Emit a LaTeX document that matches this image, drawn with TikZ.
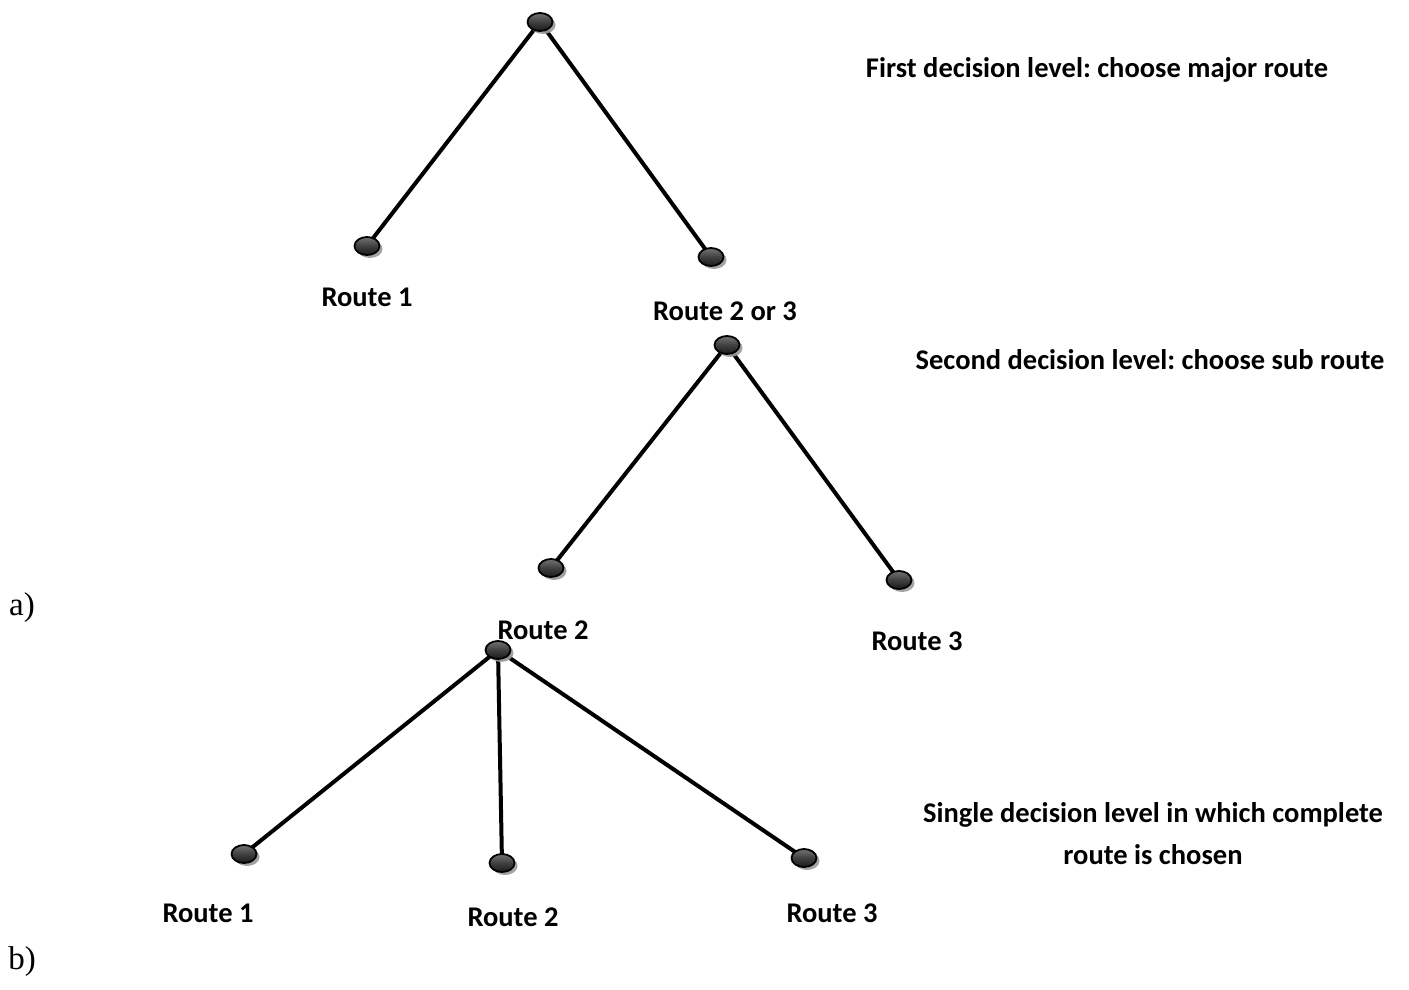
\documentclass[tikz,border=0pt]{standalone}
\usepackage{fontspec}
\setmainfont{Carlito}
\newfontfamily\seriffont{Liberation Serif}
\usetikzlibrary{shapes.geometric,shadows}
\frenchspacing
\begin{document}
\begin{tikzpicture}[x=1pt,y=-1pt,
  dot/.style={ellipse,draw=black,line width=1.8pt,minimum width=25pt,minimum height=18pt,inner sep=0pt,
    top color=black!55,bottom color=black!90,middle color=black!75,
    drop shadow={shadow xshift=3pt,shadow yshift=-3pt,fill=gray!80,opacity=0.9}},
  edge/.style={line width=4pt,line cap=round},
  lbl/.style={font=\bfseries\fontsize{28.5}{32}\selectfont,inner sep=0pt},
  side/.style={font=\bfseries\fontsize{28.5}{42}\selectfont,align=center,inner sep=0pt},
  tag/.style={font=\seriffont\fontsize{33}{36}\selectfont,inner sep=0pt}]
\useasboundingbox (0,0) rectangle (1409,990);
% tree a, level 1
\coordinate (t) at (540,22);
\coordinate (a1) at (367,246);
\coordinate (a23) at (711,257);
\draw[edge] (t) -- (a1);
\draw[edge] (t) -- (a23);
\node[dot] (nt) at (t) {};
\node[dot] (na1) at (a1) {};
\node[dot] (na23) at (a23) {};
\node[lbl] (la1) at (367,297) {Route 1};
\node[lbl] (la23) at (725,311) {Route 2 or 3};
\node[side] (s1) at (1097,70) {First decision level: choose major route};
% tree a, level 2
\coordinate (u) at (727,345);
\coordinate (b2) at (551,568);
\coordinate (b3) at (899,580);
\draw[edge] (u) -- (b2);
\draw[edge] (u) -- (b3);
\node[dot] (nu) at (u) {};
\node[dot] (nb2) at (b2) {};
\node[dot] (nb3) at (b3) {};
\node[lbl] (lb2) at (543,630) {Route 2};
\node[lbl] (lb3) at (917,641) {Route 3};
\node[side] (s2) at (1150,360) {Second decision level: choose sub route};
\node[tag] (ta) at (22,608) {a)};
% tree b
\coordinate (r) at (498,650);
\coordinate (c1) at (244,854);
\coordinate (c2) at (502,863);
\coordinate (c3) at (804,858);
\draw[edge] (r) -- (c1);
\draw[edge] (r) -- (c2);
\draw[edge] (r) -- (c3);
\node[dot] (nr) at (r) {};
\node[dot] (nc1) at (c1) {};
\node[dot] (nc2) at (c2) {};
\node[dot] (nc3) at (c3) {};
\node[lbl] (lc1) at (208,913) {Route 1};
\node[lbl] (lc2) at (513,917) {Route 2};
\node[lbl] (lc3) at (832,913) {Route 3};
\node[side] (s3) at (1153,834) {Single decision level in which complete\\route is chosen};
\node[tag] (tb) at (22,962) {b)};
\end{tikzpicture}
\end{document}
